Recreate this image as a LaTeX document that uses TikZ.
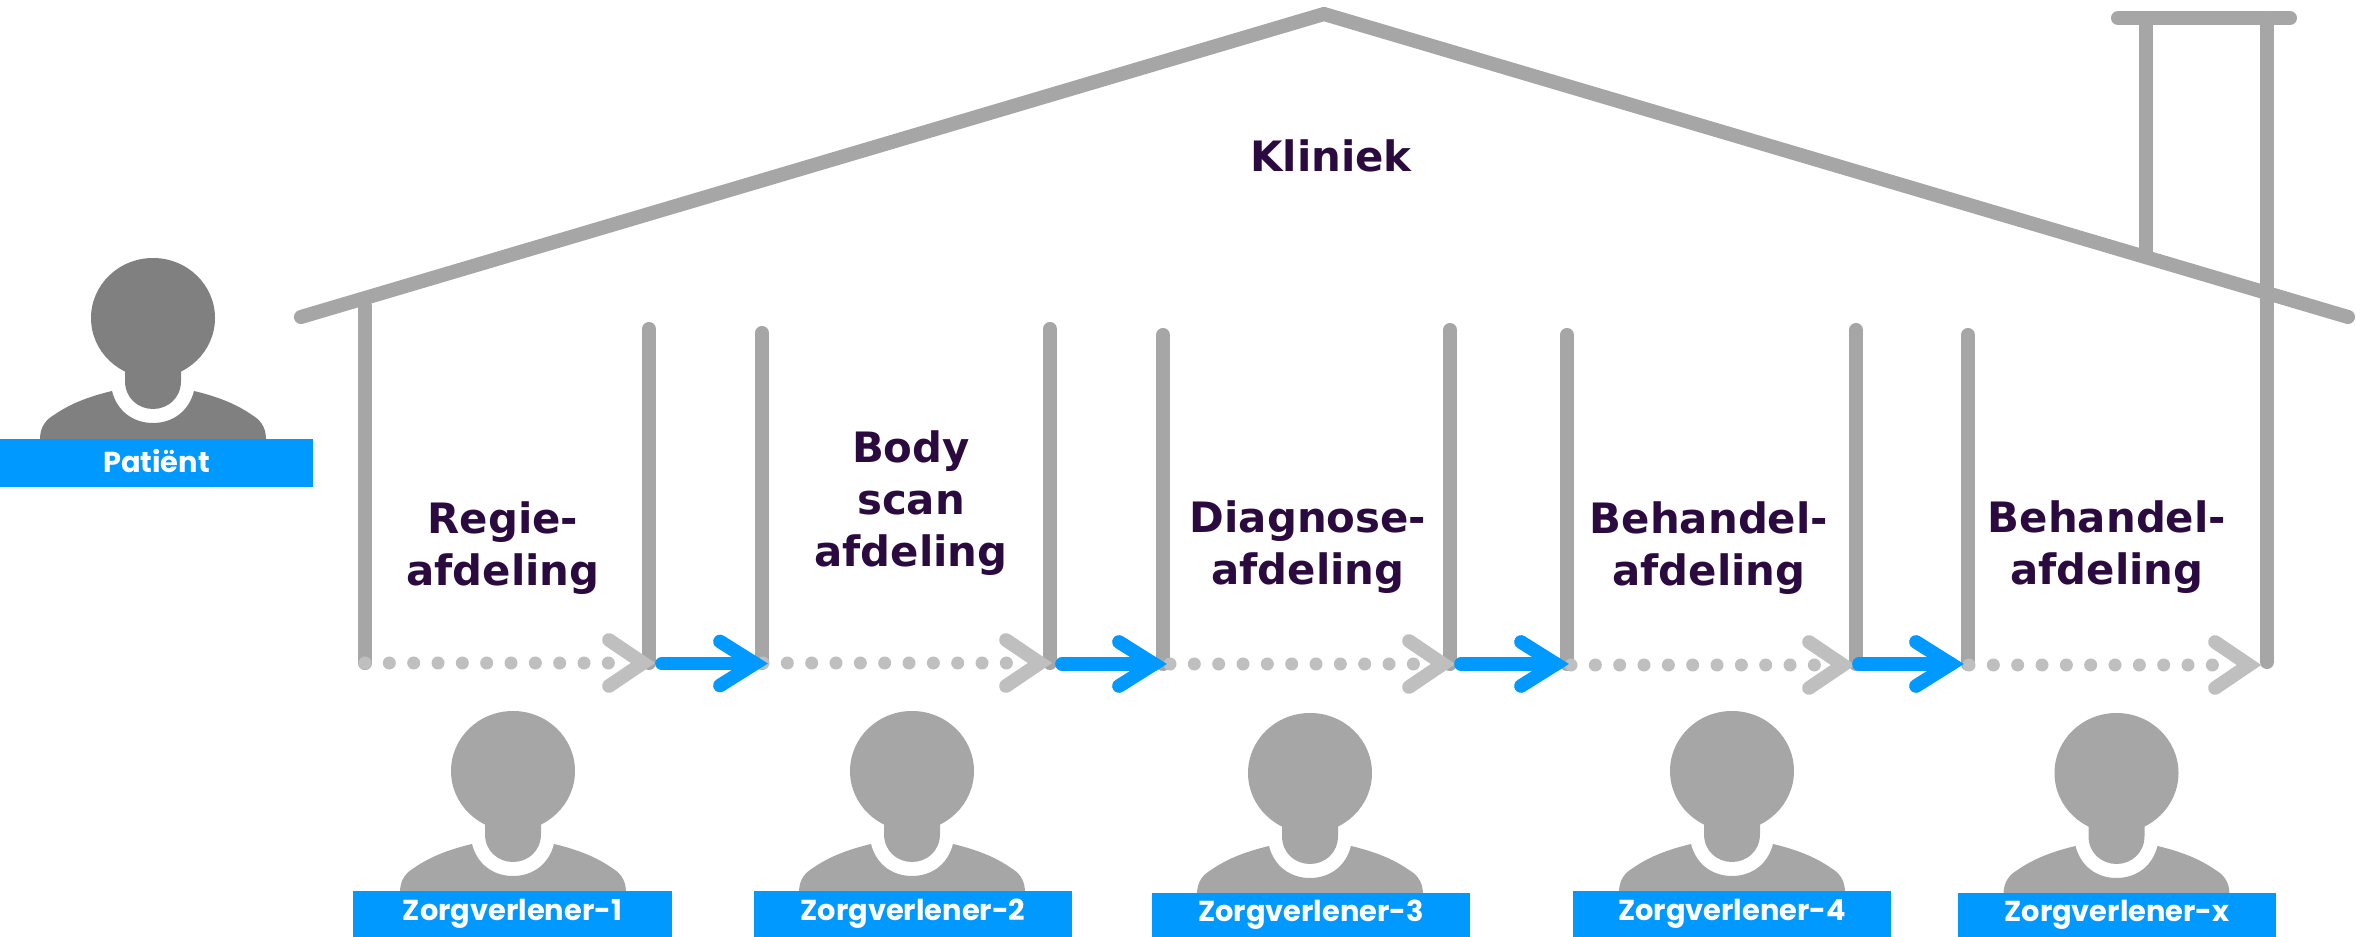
\documentclass[tikz,border=0pt]{standalone}
\usepackage{fontspec}
\newfontfamily\labelfont{DejaVu Sans}
\newfontfamily\boxfont{Poppins}
\definecolor{wallgray}{HTML}{A6A6A6}
\definecolor{dotgray}{HTML}{BFBFBF}
\definecolor{patientgray}{HTML}{808080}
\definecolor{boxblue}{HTML}{0099FF}
\definecolor{textpurple}{HTML}{2B0B3F}
\newcommand{\boxtext}[2]{\raisebox{#1pt}{#2}}
\tikzset{
  wall/.style={draw=wallgray,line width=4pt,line cap=round,line join=round},
  dots/.style={draw=dotgray,line width=3.7pt,line cap=round,dash pattern=on 0pt off 6.92pt},
  chevron/.style={draw=dotgray,line width=3.9pt,line cap=round,line join=miter},
  flow/.style={draw=boxblue,line width=3.9pt,line cap=round,line join=miter},
  dept/.style={font=\labelfont\bfseries\fontsize{11.9}{14.8}\selectfont,text=textpurple,align=center,inner sep=0pt},
  namebox/.style={fill=boxblue,text=white,font=\boxfont\bfseries\fontsize{8.2}{9}\selectfont,minimum width=90.5pt,minimum height=13.2pt,inner sep=0pt},
  pics/person/.style={code={
    \fill[#1] (0,0) ellipse [x radius=62,y radius=60];
    \fill[#1] (-28,40) -- (-28,63) .. controls (-28,80) and (-15,91) .. (0,91)
      .. controls (15,91) and (28,80) .. (28,63) -- (28,40) -- cycle;
    \fill[#1] (-113,121) .. controls (-113,108) and (-106,101) .. (-99,97)
      .. controls (-82,85) and (-62,78) .. (-41,73)
      .. controls (-36,93) and (-20,105) .. (0,105)
      .. controls (20,105) and (36,93) .. (41,73)
      .. controls (62,78) and (82,85) .. (99,97)
      .. controls (106,101) and (113,108) .. (113,121) -- cycle;
  }}
}
\begin{document}
\begin{tikzpicture}[x=0.01cm,y=-0.01cm]
  \useasboundingbox (0,0) rectangle (2356,937);
  % roof and chimney
  \coordinate (roofl) at (301,317);
  \coordinate (apex) at (1324,14);
  \coordinate (roofr) at (2348,317);
  \draw[wall] (roofl) -- (apex) -- (roofr);
  \draw[wall] (2118,18) -- (2290,18);
  \draw[wall,line cap=butt] (2146,18) -- (2146,252);
  % walls
  \draw[wall] (365,663) -- (365,306);
  \draw[wall] (649,663) -- (649,329);
  \draw[wall] (762,663) -- (762,333);
  \draw[wall] (1050,663) -- (1050,329);
  \draw[wall] (1163,664) -- (1163,335);
  \draw[wall] (1450,664) -- (1450,330);
  \draw[wall] (1567,664) -- (1567,335);
  \draw[wall] (1856,664) -- (1856,330);
  \draw[wall] (1968,664) -- (1968,335);
  \draw[wall] (2267,662) -- (2267,18);
  % dotted lines
  \coordinate (d1) at (365,663);
  \coordinate (d2) at (763,663);
  \coordinate (d3) at (1170,664);
  \coordinate (d4) at (1571,665);
  \coordinate (d5) at (1969,665);
  \foreach \start in {d1,d2,d3,d4,d5} {
    \draw[dots] (\start) -- ++(246,0);
  }
  % grey chevrons
  \coordinate (c1) at (643,663);
  \coordinate (c2) at (1040,663);
  \coordinate (c3) at (1443,664);
  \coordinate (c4) at (1843,665);
  \coordinate (c5) at (2249,665);
  \foreach \tip in {c1,c2,c3,c4,c5} {
    \draw[chevron] ([shift={(-34,-23)}]\tip) -- (\tip) -- ([shift={(-34,23)}]\tip);
  }
  % blue arrows
  \coordinate (f1) at (662,663.5);
  \coordinate (f2) at (1062,664);
  \coordinate (f3) at (1461,664);
  \coordinate (f4) at (1859,664);
  \coordinate (t1) at (755,663.5);
  \coordinate (t2) at (1154,664);
  \coordinate (t3) at (1556,664);
  \coordinate (t4) at (1951,664);
  \foreach \from/\to in {f1/t1,f2/t2,f3/t3,f4/t4} {
    \draw[flow] (\from) -- (\to);
    \draw[flow] ([shift={(-35,-22)}]\to) -- (\to) -- ([shift={(-35,22)}]\to);
  }
  % labels
  \node[dept] (kliniek) at (1331,156) {Kliniek};
  \node[dept] (regie) at (503,548) {Regie-\\afdeling};
  \node[dept] (body) at (911,503) {Body\\scan\\afdeling};
  \node[dept] (diagnose) at (1308,547) {Diagnose-\\afdeling};
  \node[dept] (behandel1) at (1709,548) {Behandel-\\afdeling};
  \node[dept] (behandel2) at (2107,547) {Behandel-\\afdeling};
  % people
  \pic at (153,318) {person=patientgray};
  \pic at (513,771) {person=wallgray};
  \pic at (912,771) {person=wallgray};
  \pic at (1310,773) {person=wallgray};
  \pic at (1732,771) {person=wallgray};
  \pic at (2116.5,773) {person=wallgray};
  \node[namebox,minimum width=89pt,minimum height=13.6pt] (patient) at (156.5,463) {\boxtext{1.3}{Patiënt}};
  \node[namebox] (zorg1) at (512.5,914) {\boxtext{-0.4}{Zorgverlener-1}};
  \node[namebox] (zorg2) at (913,914) {\boxtext{-0.4}{Zorgverlener-2}};
  \node[namebox,minimum height=12.6pt] (zorg3) at (1311,915) {\boxtext{-1}{Zorgverlener-3}};
  \node[namebox] (zorg4) at (1732,914) {\boxtext{-0.4}{Zorgverlener-4}};
  \node[namebox,minimum height=12.6pt] (zorgx) at (2117,915) {\boxtext{-1}{Zorgverlener-x}};
\end{tikzpicture}
\end{document}
